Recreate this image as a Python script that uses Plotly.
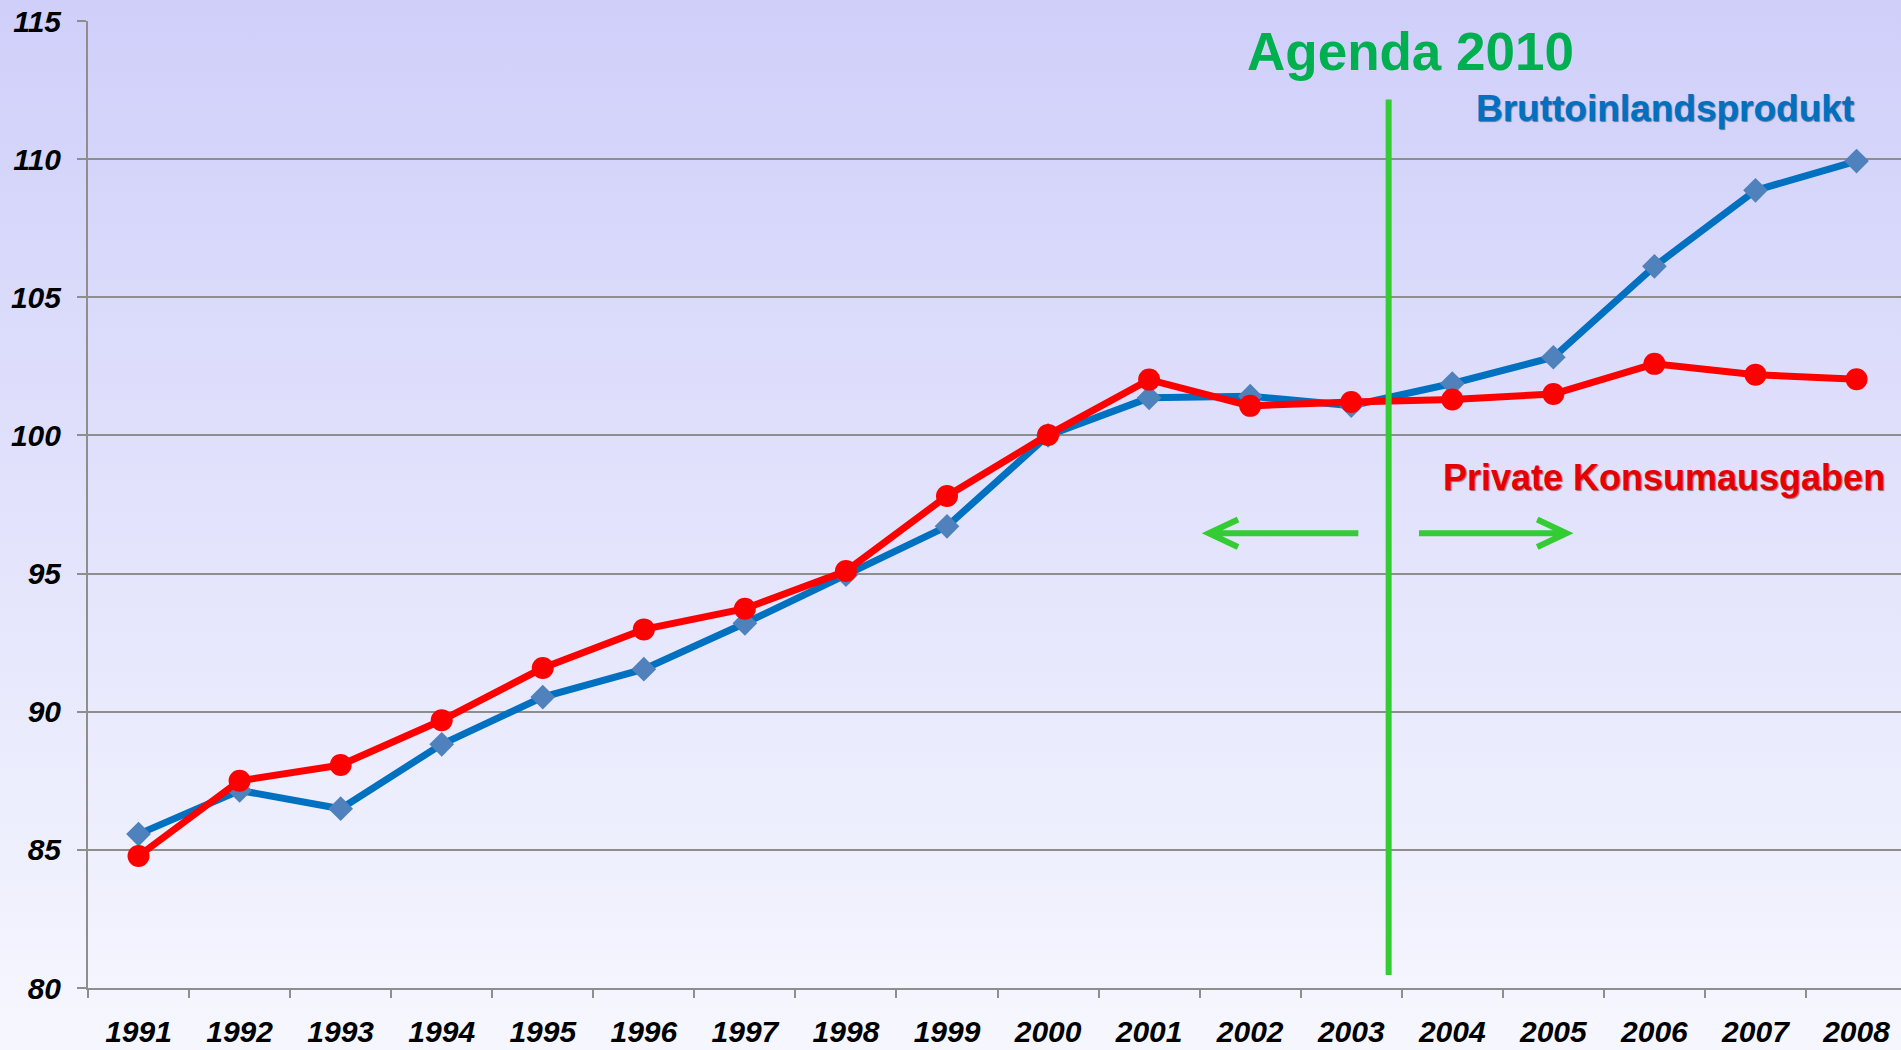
import base64
import plotly.graph_objects as go

# ------------------------------------------------------------------ #
# Data (index, 2000 = 100)
# ------------------------------------------------------------------ #
YEARS = [str(y) for y in range(1991, 2009)]
BIP = [85.57, 87.15, 86.49, 88.82, 90.53, 91.54, 93.20, 94.96, 96.71, 100.0,
       101.36, 101.42, 101.08, 101.88, 102.83, 106.12, 108.87, 109.93]
KONSUM = [84.78, 87.50, 88.07, 89.69, 91.58, 92.98, 93.73, 95.09, 97.81, 100.02,
          102.02, 101.07, 101.21, 101.30, 101.50, 102.59, 102.20, 102.03]
Y_TICKS = [80, 85, 90, 95, 100, 105, 110, 115]

# ------------------------------------------------------------------ #
# Design tokens
# ------------------------------------------------------------------ #
BLUE_LINE = "#0070C0"
BLUE_MARK = "#4F81BD"
RED = "#FF0000"
GREEN = "#33CC33"
GREEN_TXT = "#00B050"
GRID = "#8E8E8E"
FONT = "Liberation Sans, Arial, sans-serif"

W, H = 1901, 1050
M = dict(l=88, r=0, t=21, b=62)
PW, PH = W - M["l"] - M["r"], H - M["t"] - M["b"]

AGENDA_X = 12.37
ARROW_Y = 96.46
ARM_DX, ARM_DY = 0.29, 0.5

svg = (
    "<svg xmlns='http://www.w3.org/2000/svg' width='100' height='100' preserveAspectRatio='none'>"
    "<defs><linearGradient id='g' x1='0' y1='0' x2='0' y2='1'>"
    "<stop offset='0' stop-color='#CFCFFA'/><stop offset='1' stop-color='#F6F7FE'/>"
    "</linearGradient></defs><rect width='100' height='100' fill='url(#g)'/></svg>"
)
bg_src = "data:image/svg+xml;base64," + base64.b64encode(svg.encode()).decode()

fig = go.Figure()
fig.add_trace(go.Scatter(x=YEARS, y=BIP, name="Bruttoinlandsprodukt", mode="lines+markers",
                         line=dict(color=BLUE_LINE, width=7),
                         marker=dict(symbol="diamond", size=19, color=BLUE_MARK)))
fig.add_trace(go.Scatter(x=YEARS, y=KONSUM, name="Private Konsumausgaben", mode="lines+markers",
                         line=dict(color=RED, width=7),
                         marker=dict(symbol="circle", size=22, color=RED)))

# Agenda 2010 divider + arrows
fig.add_shape(type="line", xref="x", yref="y", x0=AGENDA_X, x1=AGENDA_X, y0=80.47, y1=112.16,
              line=dict(color=GREEN, width=6), layer="above")
lt, lb = 10.59, 12.07
rt, rb = 14.13, 12.67
for tip, tail, d in [(lt, lb, 1), (rt, rb, -1)]:
    path = (f"M {tip + d * ARM_DX},{ARROW_Y + ARM_DY} L {tip},{ARROW_Y} "
            f"L {tip + d * ARM_DX},{ARROW_Y - ARM_DY} M {tip},{ARROW_Y} L {tail},{ARROW_Y}")
    fig.add_shape(type="path", xref="x", yref="y", path=path,
                  line=dict(color=GREEN, width=6), layer="above")

fig.add_annotation(x=12.586, y=113.9, xref="x", yref="y", text="Agenda 2010", showarrow=False,
                   font=dict(family=FONT, size=53, color=GREEN_TXT, weight="bold"))
fig.add_annotation(x=15.10, y=111.84, xref="x", yref="y", text="Bruttoinlandsprodukt", showarrow=False,
                   font=dict(family=FONT, size=37, color=BLUE_LINE, weight="bold",
                             shadow="1px 1px 1px rgba(0,40,90,0.55)"))
fig.add_annotation(x=15.09, y=98.49, xref="x", yref="y", text="Private Konsumausgaben", showarrow=False,
                   font=dict(family=FONT, size=36, color="#E80000", weight="bold",
                             shadow="1px 1px 1px rgba(90,0,0,0.55)"))

tick_font = dict(family=FONT, size=30, color="#000000", weight="bold", style="italic")
fig.update_layout(
    width=W, height=H, margin=M,
    paper_bgcolor="rgba(0,0,0,0)", plot_bgcolor="rgba(0,0,0,0)",
    showlegend=False,
    images=[dict(source=bg_src, xref="paper", yref="paper",
                 x=-M["l"] / PW, y=1 + M["t"] / PH, sizex=W / PW, sizey=H / PH,
                 xanchor="left", yanchor="top", sizing="stretch", layer="below")],
    xaxis=dict(type="category", range=[-0.5, -0.5 + PW / 101.06], tickson="boundaries",
               ticks="outside", ticklen=8, tickwidth=2, tickcolor=GRID,
               showline=True, linecolor=GRID, linewidth=2, showgrid=False,
               tickfont=tick_font, ticklabelstandoff=16),
    yaxis=dict(range=[80, 115], tickvals=Y_TICKS, ticks="outside", ticklen=9, tickwidth=2,
               tickcolor=GRID, showline=True, linecolor=GRID, linewidth=2,
               showgrid=True, gridcolor=GRID, gridwidth=2, zeroline=False,
               tickfont=tick_font, ticklabelstandoff=10),
)

# page body has a default margin; remove it so the figure fills the window
fig.write_html("out.html", config={"displayModeBar": False},
               post_script="document.body.style.margin='0';")
